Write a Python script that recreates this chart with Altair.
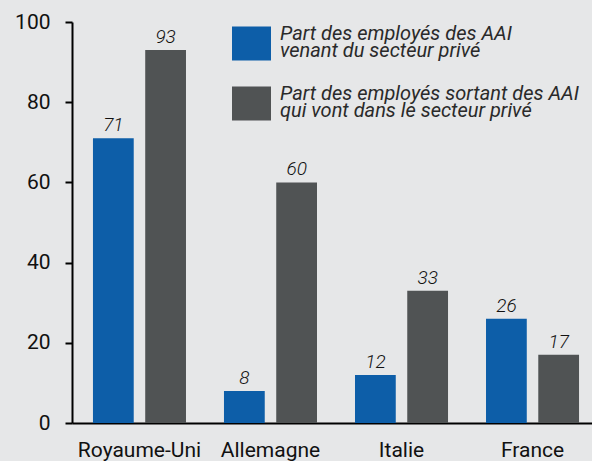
import altair as alt
import pandas as pd

countries = ["Royaume-Uni", "Allemagne", "Italie", "France"]
series = [
    "Part des employés des AAI|venant du secteur privé",
    "Part des employés sortant des AAI|qui vont dans le secteur privé",
]
venant = [71, 8, 12, 26]
sortant = [93, 60, 33, 17]
colors = ["#0d5ea8", "#505354"]

rows = []
for c, v, s in zip(countries, venant, sortant):
    rows.append({"pays": c, "serie": series[0], "valeur": v})
    rows.append({"pays": c, "serie": series[1], "valeur": s})
df = pd.DataFrame(rows)

FONT = "Roboto"

base = alt.Chart(df).encode(
    x=alt.X(
        "pays:N",
        sort=countries,
        title=None,
        scale=alt.Scale(paddingInner=0.29, paddingOuter=0.16, range=[0, 528]),
        axis=alt.Axis(
            labelAngle=0,
            ticks=False,
            domain=True,
            domainColor="black",
            domainWidth=2,
            labelFontSize=21,
            labelFont=FONT,
            labelFontWeight=400,
            labelColor="#111111",
            labelPadding=16,
        ),
    ),
    xOffset=alt.XOffset("serie:N", sort=series, scale=alt.Scale(paddingInner=0.22)),
    y=alt.Y(
        "valeur:Q",
        title=None,
        scale=alt.Scale(domain=[0, 100], nice=False),
        axis=alt.Axis(
            values=[0, 20, 40, 60, 80, 100],
            grid=False,
            domainColor="black",
            domainWidth=2,
            tickColor="black",
            tickWidth=2,
            tickSize=7,
            labelFontSize=21,
            labelFont=FONT,
            labelFontWeight=400,
            labelColor="#111111",
            labelPadding=15,
        ),
    ),
)

bars = base.mark_bar().encode(
    color=alt.Color(
        "serie:N",
        sort=series,
        scale=alt.Scale(domain=series, range=colors),
        legend=alt.Legend(
            title=None,
            orient="none",
            legendX=160,
            legendY=2,
            padding=0,
            symbolType="M-1,-0.87H1V0.87H-1Z",
            symbolSize=1521,
            symbolStrokeWidth=0,
            symbolOpacity=1,
            labelFont=FONT,
            labelFontSize=20,
            labelFontStyle="italic",
            labelFontWeight=400,
            labelColor="#2a2a2a",
            labelOffset=9,
            labelLimit=400,
            labelBaseline="bottom",
            rowPadding=22,
            labelExpr="split(datum.label, '|')",
        ),
    )
)

labels = base.mark_text(
    dy=-7, baseline="alphabetic", fontStyle="italic", fontSize=19, font=FONT,
    fontWeight=300, color="#111111"
).encode(text=alt.Text("valeur:Q"))

chart = (
    alt.layer(bars, labels)
    .properties(
        width=520,
        height=401,
        background="#e6e7e8",
        autosize=alt.AutoSizeParams(type="none"),
        padding={"left": 72, "top": 22, "right": 0, "bottom": 38},
    )
    .configure(style={"guide-label": {"lineHeight": 17}})
    .configure_view(stroke=None)
)

chart.save("out.html", embed_options={"renderer": "svg", "actions": False})
